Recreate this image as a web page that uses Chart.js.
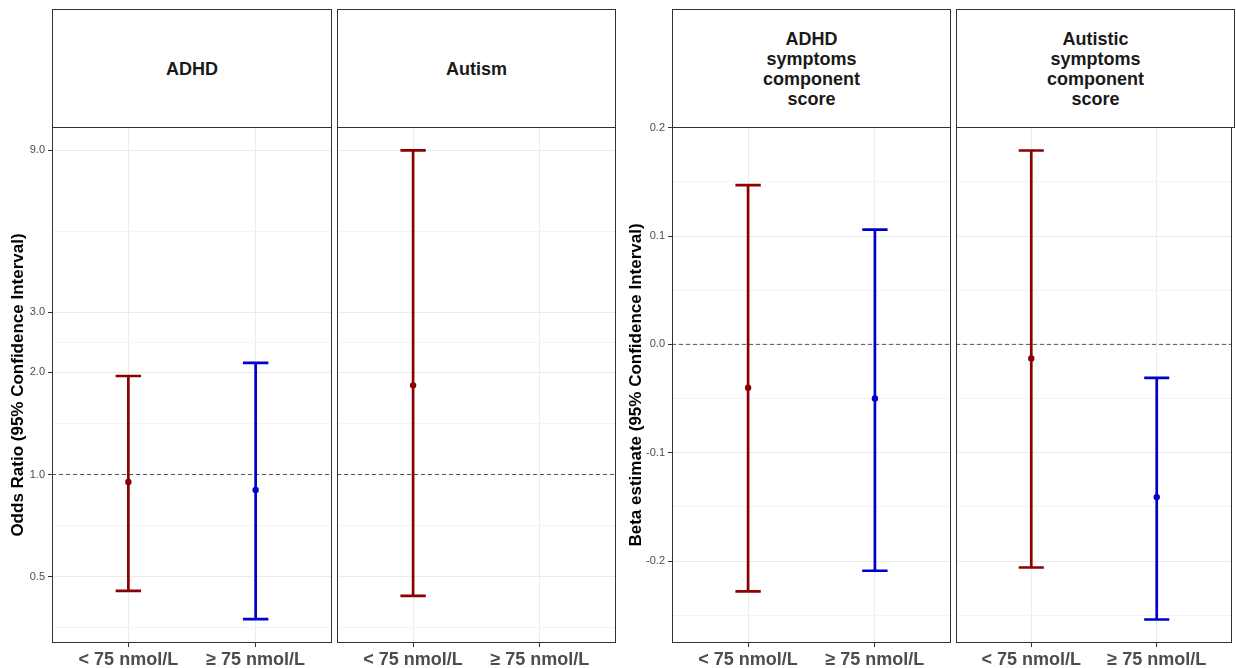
<!DOCTYPE html>
<html>
<head>
<meta charset="utf-8">
<script src="https://cdn.jsdelivr.net/npm/chart.js@4.4.0/dist/chart.umd.min.js"></script>
<style>
  html, body { margin: 0; padding: 0; background: #ffffff; }
  body { width: 1236px; height: 668px; overflow: hidden; position: relative;
         font-family: "Liberation Sans", Arial, sans-serif; }
  canvas { position: absolute; }
  .strip { position: absolute; box-sizing: border-box; border: 1px solid #333333;
           display: flex; align-items: center; justify-content: center; text-align: center;
           font-weight: bold; font-size: 18px; line-height: 20px; color: #1a1a1a; background: #ffffff; }
</style>
</head>
<body>
<script>
// ---------------- DATA ----------------
const categories = ['< 75 nmol/L', '≥ 75 nmol/L'];
const groupColors = ['#8B0000', '#0000CD'];

const panelTitles = [
  ['ADHD'],
  ['Autism'],
  ['ADHD', 'symptoms', 'component', 'score'],
  ['Autistic', 'symptoms', 'component', 'score']
];

// Odds ratios (95% CI)
const adhdEst    = [0.95, 0.90];
const adhdLow    = [0.454, 0.375];
const adhdHigh   = [1.95, 2.13];
const autismEst  = [1.83, null];
const autismLow  = [0.439, null];
const autismHigh = [9.0, null];

// Beta estimates (95% CI)
const adhdSymEst  = [-0.040, -0.050];
const adhdSymLow  = [-0.228, -0.209];
const adhdSymHigh = [0.147, 0.106];
const autSymEst   = [-0.013, -0.141];
const autSymLow   = [-0.206, -0.254];
const autSymHigh  = [0.179, -0.031];

// Axis ticks
const orTickValues   = [0.5, 1, 2, 3, 9];
const orTickLabels   = ['0.5', '1.0', '2.0', '3.0', '9.0'];
const orMinorTicks   = [0.354, 0.707, 1.414, 2.449, 5.196];
const orRange        = [0.319, 10.55];
const orReference    = 1;

const betaTickValues = [-0.2, -0.1, 0, 0.1, 0.2];
const betaTickLabels = ['-0.2', '-0.1', '0.0', '0.1', '0.2'];
const betaMinorTicks = [-0.25, -0.15, -0.05, 0.05, 0.15];
const betaRange      = [-0.2757, 0.2007];
const betaReference  = 0;

const xRange = [0.4, 2.6];
const capHalfWidth = 0.1;

// ---------------- LAYOUT ----------------
const FONT = '"Liberation Sans", Arial, sans-serif';
Chart.defaults.font.family = FONT;

const panels = [
  { title: panelTitles[0], kind: 'or', est: adhdEst, low: adhdLow, high: adhdHigh,
    showY: true, yTitle: 'Odds Ratio (95% Confidence Interval)', titlePad: 8,
    L: 52, R: 332, canvasLeft: 0, padL: 0, padR: 10 },
  { title: panelTitles[1], kind: 'or', est: autismEst, low: autismLow, high: autismHigh,
    showY: false, L: 337, R: 616, canvasLeft: 327, padL: 10, padR: 10 },
  { title: panelTitles[2], kind: 'beta', est: adhdSymEst, low: adhdSymLow, high: adhdSymHigh,
    showY: true, yTitle: 'Beta estimate (95% Confidence Interval)', titlePad: 6,
    L: 672, R: 951, canvasLeft: 620, padL: 0, padR: 10 },
  { title: panelTitles[3], kind: 'beta', est: autSymEst, low: autSymLow, high: autSymHigh,
    showY: false, L: 956, R: 1235, canvasLeft: 946, padL: 10, padR: 1 }
];

const Y_AXIS_W = 52;
const CANVAS_TOP = 117;
const CANVAS_H = 551;
const PAD_TOP = 10;
const X_AXIS_H = 25;

const panelBorder = {
  id: 'panelBorder',
  afterDraw(chart) {
    const { ctx, chartArea: a } = chart;
    ctx.save();
    ctx.strokeStyle = '#333333';
    ctx.lineWidth = 1;
    ctx.strokeRect(a.left + 0.5, a.top + 0.5, a.right - a.left - 1, a.bottom - a.top - 1);
    ctx.restore();
  }
};

function buildYScale(p) {
  const isLog = p.kind === 'or';
  const majors = isLog ? orTickValues : betaTickValues;
  const labels = isLog ? orTickLabels : betaTickLabels;
  const minors = isLog ? orMinorTicks : betaMinorTicks;
  const range = isLog ? orRange : betaRange;
  return {
    type: isLog ? 'logarithmic' : 'linear',
    bounds: 'data',
    min: range[0],
    max: range[1],
    afterBuildTicks: s => {
      s.ticks = majors.map(v => ({ value: v, isMajor: true }))
        .concat(minors.map(v => ({ value: v, isMajor: false })))
        .sort((a, b) => a.value - b.value);
    },
    afterFit: s => { s.width = p.showY ? Y_AXIS_W : 0; s.paddingTop = 0; s.paddingBottom = 0; },
    ticks: {
      display: p.showY, autoSkip: false, padding: 3, color: '#4D4D4D',
      font: { size: 11, family: FONT },
      callback: (v, i, t) => t[i].isMajor ? labels[majors.indexOf(t[i].value)] : ''
    },
    grid: {
      color: c => (c.tick && c.tick.isMajor) ? '#EBEBEB' : '#F4F4F4',
      lineWidth: 1,
      drawTicks: p.showY,
      tickLength: 4,
      tickColor: c => (c.tick && c.tick.isMajor) ? '#333333' : 'rgba(0,0,0,0)'
    },
    border: { display: false },
    title: {
      display: p.showY, text: p.yTitle || '', color: '#000000',
      font: { size: 17, weight: 'bold', family: FONT },
      padding: { top: p.titlePad || 0, bottom: 0 }
    }
  };
}

function buildXScale() {
  return {
    type: 'linear',
    bounds: 'data',
    min: xRange[0],
    max: xRange[1],
    afterBuildTicks: s => { s.ticks = categories.map((c, i) => ({ value: i + 1 })); },
    afterFit: s => { s.height = X_AXIS_H; s.paddingLeft = 0; s.paddingRight = 0; },
    ticks: {
      autoSkip: false, maxRotation: 0, minRotation: 0, padding: 2, color: '#4D4D4D',
      font: { size: 18, weight: 'bold', family: FONT },
      callback: v => categories[Math.round(v) - 1]
    },
    grid: { color: '#EBEBEB', lineWidth: 1, drawTicks: true, tickLength: 4, tickColor: '#333333' },
    border: { display: false }
  };
}

function buildDatasets(p) {
  const ds = [];
  categories.forEach((c, i) => {
    if (p.est[i] == null) return;
    const x = i + 1, lo = p.low[i], hi = p.high[i];
    ds.push({
      type: 'scatter', label: c, data: [{ x: x, y: p.est[i] }],
      pointRadius: 3.2, pointBackgroundColor: groupColors[i], pointBorderWidth: 0, order: 0
    });
    ds.push({
      type: 'line', label: c + ' CI',
      data: [
        { x: x - capHalfWidth, y: lo }, { x: x + capHalfWidth, y: lo }, { x: x, y: null },
        { x: x, y: lo }, { x: x, y: hi }, { x: x, y: null },
        { x: x - capHalfWidth, y: hi }, { x: x + capHalfWidth, y: hi }
      ],
      borderColor: groupColors[i], borderWidth: 2.7, borderCapStyle: 'butt',
      pointRadius: 0, spanGaps: false, fill: false, tension: 0, order: 1
    });
  });
  const ref = p.kind === 'or' ? orReference : betaReference;
  ds.push({
    type: 'line', label: 'reference',
    data: [{ x: xRange[0], y: ref }, { x: xRange[1], y: ref }],
    borderColor: '#555555', borderWidth: 1, borderDash: [4, 3],
    pointRadius: 0, fill: false, order: 2
  });
  return ds;
}

panels.forEach(p => {
  // strip header
  const strip = document.createElement('div');
  strip.className = 'strip';
  strip.style.left = p.L + 'px';
  strip.style.top = '9px';
  strip.style.width = (p.R - p.L) + 'px';
  strip.style.height = '119px';
  strip.innerHTML = p.title.join('<br>');
  document.body.appendChild(strip);

  // chart canvas
  const canvas = document.createElement('canvas');
  const w = p.R + p.padR - p.canvasLeft;
  canvas.width = w;
  canvas.height = CANVAS_H;
  canvas.style.left = p.canvasLeft + 'px';
  canvas.style.top = CANVAS_TOP + 'px';
  canvas.style.width = w + 'px';
  canvas.style.height = CANVAS_H + 'px';
  document.body.appendChild(canvas);

  new Chart(canvas, {
    type: 'scatter',
    data: { datasets: buildDatasets(p) },
    options: {
      responsive: false,
      maintainAspectRatio: false,
      devicePixelRatio: 1,
      animation: false,
      events: [],
      layout: { padding: { left: p.padL, right: p.padR, top: PAD_TOP, bottom: 0 } },
      plugins: { legend: { display: false }, tooltip: { enabled: false } },
      scales: { x: buildXScale(), y: buildYScale(p) }
    },
    plugins: [panelBorder]
  });
});
</script>
</body>
</html>
